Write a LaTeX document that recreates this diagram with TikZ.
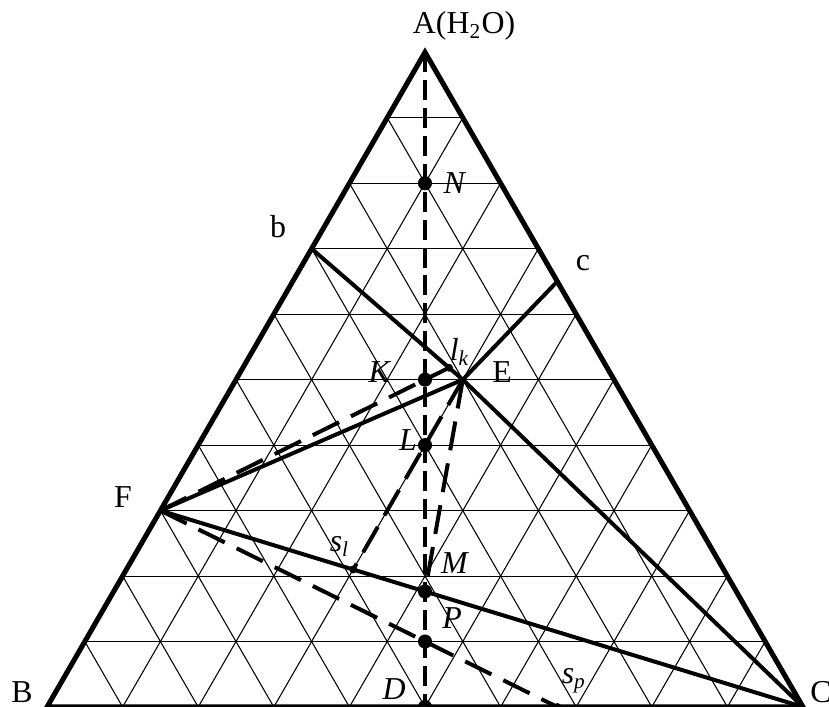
\documentclass[tikz,border=0pt]{standalone}
\usepackage{fontspec}
\setmainfont{Liberation Serif}
\usetikzlibrary{calc}
\begin{document}
\begin{tikzpicture}[
  font=\fontsize{12}{14}\selectfont,
  gridline/.style={line width=0.4pt},
  edgeline/.style={line width=1.9pt, line join=miter},
  boldline/.style={line width=1.5pt},
  dashline/.style={line width=1.5pt, dash pattern=on 11pt off 5pt},
  vdashline/.style={line width=1.4pt, dash pattern=on 7.5pt off 3pt},
  bigdot/.style={circle, fill=black, inner sep=0pt, minimum size=5.3pt},
  smalldot/.style={circle, fill=black, inner sep=0pt, minimum size=3pt},
  lbl/.style={inner sep=0pt, anchor=center},
]
\useasboundingbox (-0.622,0) rectangle (10.344,9.352);

% key points
\coordinate (B) at (0,0);
\coordinate (C) at (10,0);
\coordinate (A) at (5,8.660);
\coordinate (b) at (3.5,6.062);
\coordinate (c) at (6.75,5.629);
\coordinate (E) at (5.5,4.330);
\coordinate (F) at (1.5,2.598);
\coordinate (D) at (5,0);
\coordinate (N) at (5,6.928);
\coordinate (K) at (5,4.330);
\coordinate (L) at (5,3.464);
\coordinate (P) at (5,0.866);
\coordinate (M) at (intersection of F--C and A--D);
\coordinate (lk) at (intersection of F--K and b--E);
\coordinate (sl) at (intersection of E--L and F--C);
\coordinate (sp) at (intersection of F--P and B--C);

% grid
\foreach \i in {1,...,9}{
  \draw[gridline] ({\i*0.5},{\i*0.866}) -- ({10-\i*0.5},{\i*0.866});
  \draw[gridline] (\i,0) -- ({\i+(10-\i)*0.5},{(10-\i)*0.866});
  \draw[gridline] (\i,0) -- ({\i*0.5},{\i*0.866});
}

% solid lines
\draw[boldline] (b) -- (E) -- (C);
\draw[boldline] (c) -- (E);
\draw[boldline] (F) -- (E);
\draw[boldline] (F) -- (C);

% dashed lines
\draw[vdashline] (A) -- (D);
\draw[dashline] (F) -- (lk);
\draw[dashline] (F) -- (sp);
\draw[dashline] (E) -- (sl);
\draw[dashline] (E) -- (M);

% triangle
\draw[edgeline] (A) -- (B) -- (C) -- cycle;

% dots
\node[bigdot] (Nd) at (N) {};
\node[bigdot] (Kd) at (K) {};
\node[bigdot] (Ld) at (L) {};
\node[bigdot] (Md) at (M) {};
\node[bigdot] (Pd) at (P) {};
\node[bigdot] (Dd) at (D) {};
\node[smalldot] (lkd) at (lk) {};
\node[smalldot] (sld) at (sl) {};
\node[smalldot] (spd) at (sp) {};

% labels
\node[lbl] (Alab) at (5.516,9.008) {A(H\textsubscript{2}O)};
\node[lbl] (Blab) at (-0.331,0.198) {B};
\node[lbl] (Clab) at (10.238,0.198) {C};
\node[lbl] (blab) at (3.056,6.349) {b};
\node[lbl] (clab) at (7.09,5.873) {c};
\node[lbl] (Elab) at (6.019,4.431) {E};
\node[lbl] (Flab) at (1.005,2.778) {F};
\node[lbl] (Nlab) at (5.397,6.931) {\textit{N}};
\node[lbl] (Klab) at (4.405,4.431) {\textit{K}};
\node[lbl] (Llab) at (4.775,3.532) {\textit{L}};
\node[lbl] (Mlab) at (5.397,1.905) {\textit{M}};
\node[lbl] (Plab) at (5.357,1.177) {\textit{P}};
\node[lbl] (Dlab) at (4.59,0.238) {\textit{D}};
\node[lbl] (lklab) at (5.46,4.70) {\textit{l}\textsubscript{\textit{k}}};
\node[lbl] (sllab) at (3.87,2.12) {\textit{s}\textsubscript{\textit{l}}};
\node[lbl] (splab) at (6.97,0.35) {\textit{s}\textsubscript{\textit{p}}};
\end{tikzpicture}
\end{document}
